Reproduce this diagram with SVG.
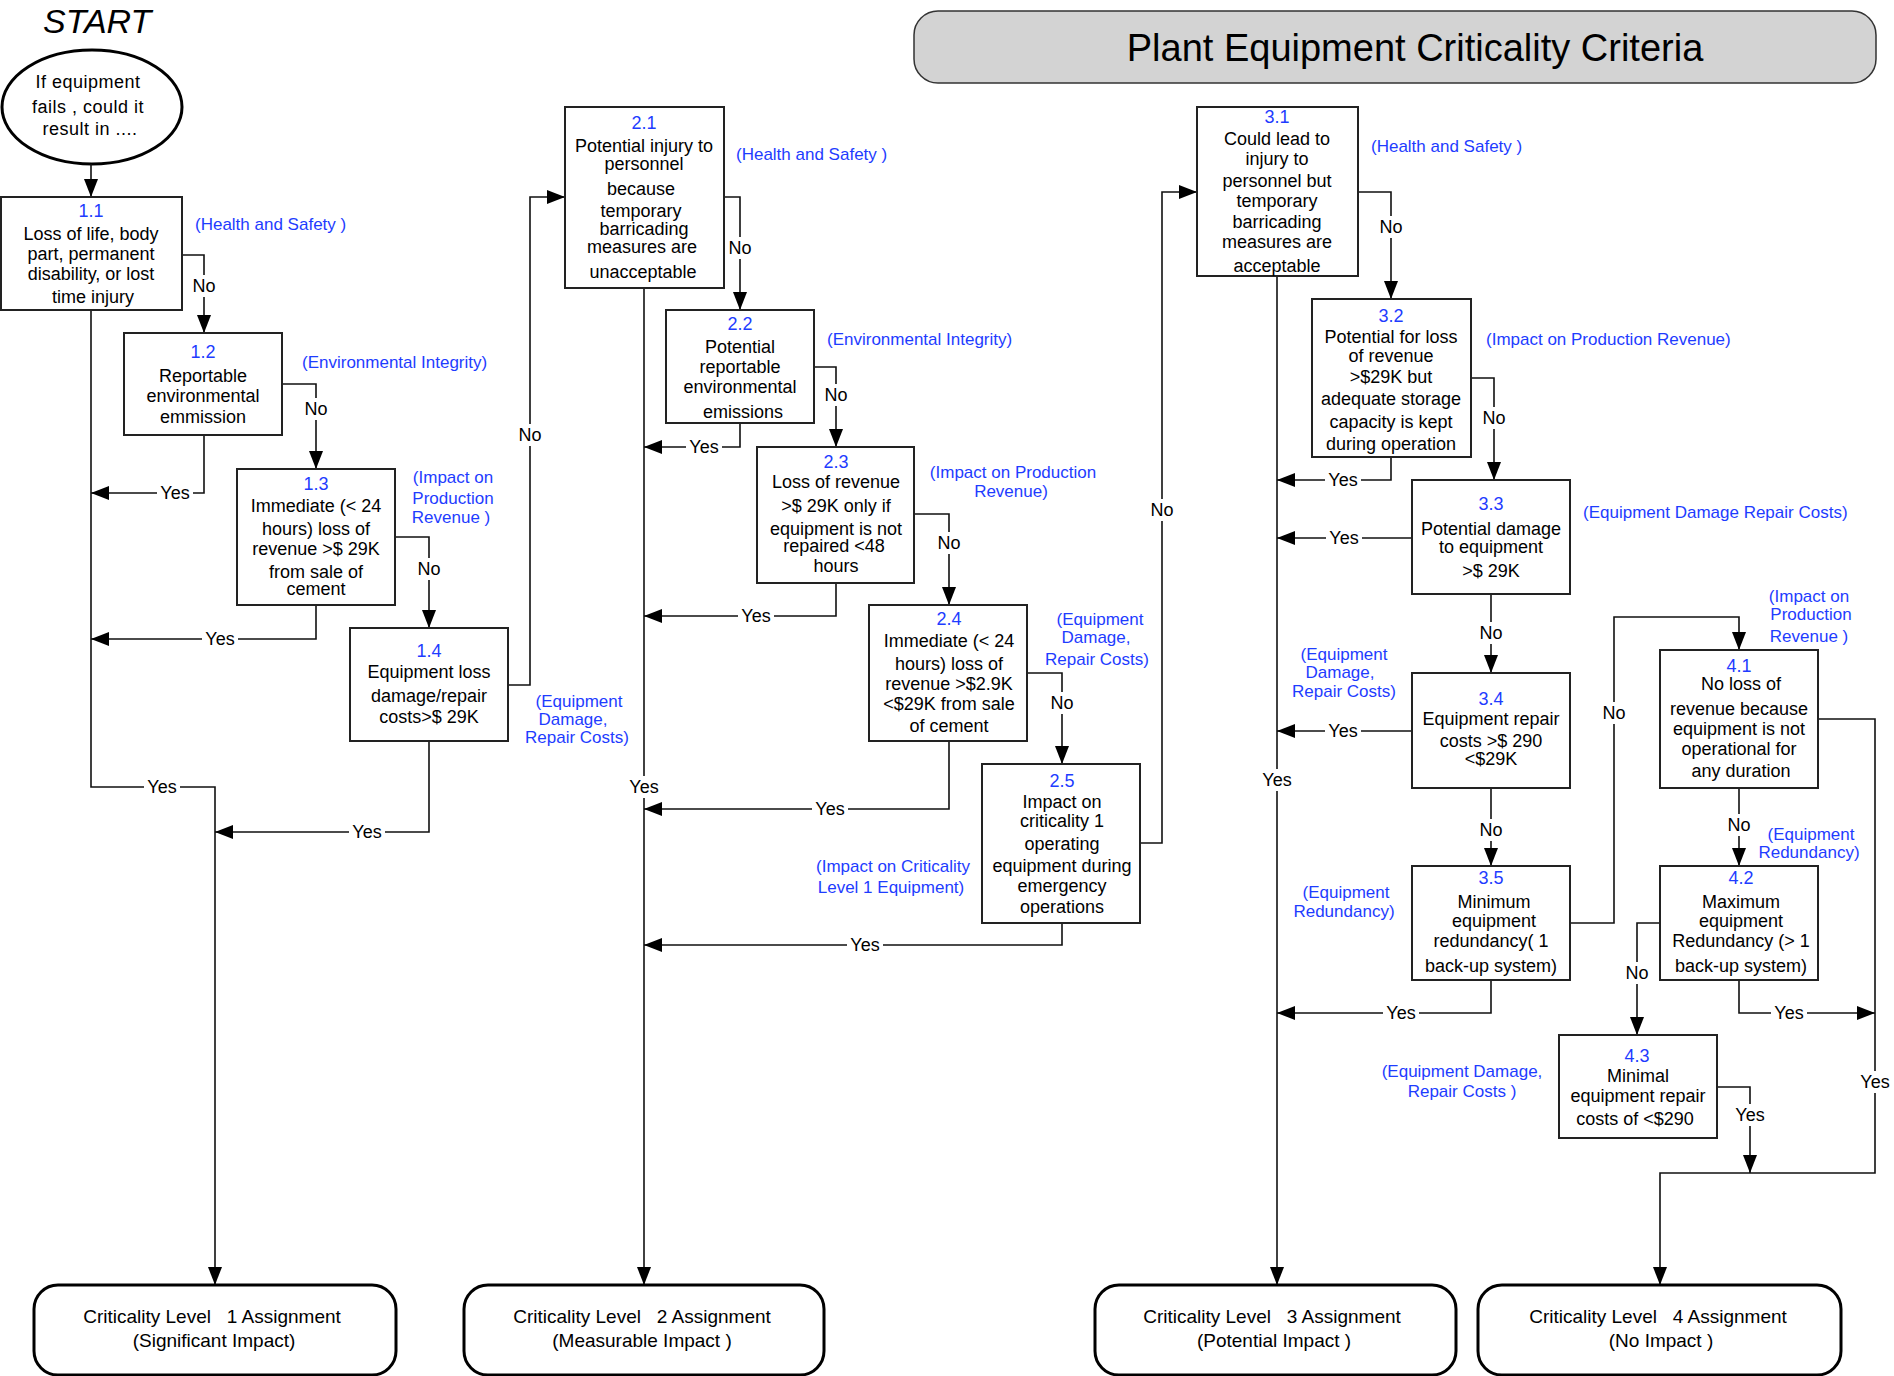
<svg xmlns="http://www.w3.org/2000/svg" width="1894" height="1376" viewBox="0 0 1894 1376">
<style>
text{font-family:"Liberation Sans",Arial,sans-serif}
.box{fill:#fff;stroke:#222;stroke-width:2}
.term{fill:#fff;stroke:#000;stroke-width:3}
.t{font-size:18px;fill:#000;text-anchor:middle}
.num{font-size:18px;fill:#1e3cff;text-anchor:middle}
.cat{font-size:17px;fill:#1e3cff}
.catm{font-size:17px;fill:#1e3cff;text-anchor:middle}
.conn{fill:none;stroke:#111;stroke-width:1.6}
.lbl{font-size:18px;fill:#000;text-anchor:middle}
.bg{fill:#fff}
.tt{font-size:19px;fill:#000;text-anchor:middle}
</style>
<defs>
<marker id="ah" markerUnits="userSpaceOnUse" markerWidth="20" markerHeight="14" refX="18" refY="7" orient="auto">
<path d="M0,0 L18,7 L0,14 z" fill="#000"/>
</marker>
</defs>
<rect width="1894" height="1376" fill="#fff"/>

<g id="title">
<rect x="914" y="11" width="962" height="72" rx="24" fill="#d3d3d3" stroke="#333" stroke-width="1.5"/>
<text x="1415" y="61" font-size="38" text-anchor="middle" fill="#000">Plant Equipment Criticality Criteria</text>
</g>

<g id="start">
<text x="43" y="33" font-size="34" font-style="italic" fill="#000">START</text>
<ellipse cx="92" cy="107" rx="90" ry="57" fill="#fff" stroke="#000" stroke-width="3"/>
<text class="t" letter-spacing="0.5"><tspan x="88" y="88">If equipment</tspan><tspan x="88" y="113">fails , could it</tspan><tspan x="90" y="135">result in ....</tspan></text>
</g>

<g id="connectors">
<path class="conn" marker-end="url(#ah)" d="M91,164 V197"/>
<path class="conn" marker-end="url(#ah)" d="M182,255 H204 V333"/>
<path class="conn" marker-end="url(#ah)" d="M282,384 H316 V469"/>
<path class="conn" marker-end="url(#ah)" d="M395,537 H429 V628"/>
<path class="conn" marker-end="url(#ah)" d="M508,685 H530 V197 H565"/>
<path class="conn" marker-end="url(#ah)" d="M204,435 V493 H91"/>
<path class="conn" marker-end="url(#ah)" d="M316,605 V639 H91"/>
<path class="conn" marker-end="url(#ah)" d="M91,310 V787 H215 V1285"/>
<path class="conn" marker-end="url(#ah)" d="M429,741 V832 H215"/>
<path class="conn" marker-end="url(#ah)" d="M724,197 H740 V310"/>
<path class="conn" marker-end="url(#ah)" d="M814,367 H836 V447"/>
<path class="conn" marker-end="url(#ah)" d="M914,514 H949 V605"/>
<path class="conn" marker-end="url(#ah)" d="M1027,673 H1062 V764"/>
<path class="conn" marker-end="url(#ah)" d="M1140,843 H1162 V192 H1197"/>
<path class="conn" marker-end="url(#ah)" d="M644,288 V1285"/>
<path class="conn" marker-end="url(#ah)" d="M740,423 V447 H644"/>
<path class="conn" marker-end="url(#ah)" d="M836,583 V616 H644"/>
<path class="conn" marker-end="url(#ah)" d="M949,741 V809 H644"/>
<path class="conn" marker-end="url(#ah)" d="M1062,923 V945 H644"/>
<path class="conn" marker-end="url(#ah)" d="M1358,192 H1391 V299"/>
<path class="conn" marker-end="url(#ah)" d="M1471,378 H1494 V480"/>
<path class="conn" marker-end="url(#ah)" d="M1491,594 V673"/>
<path class="conn" marker-end="url(#ah)" d="M1491,788 V866"/>
<path class="conn" marker-end="url(#ah)" d="M1570,923 H1614 V617 H1739 V650"/>
<path class="conn" marker-end="url(#ah)" d="M1277,276 V1285"/>
<path class="conn" marker-end="url(#ah)" d="M1391,457 V480 H1277"/>
<path class="conn" marker-end="url(#ah)" d="M1412,538 H1277"/>
<path class="conn" marker-end="url(#ah)" d="M1412,731 H1277"/>
<path class="conn" marker-end="url(#ah)" d="M1491,980 V1013 H1277"/>
<path class="conn" marker-end="url(#ah)" d="M1739,788 V866"/>
<path class="conn" marker-end="url(#ah)" d="M1660,923 H1637 V1035"/>
<path class="conn" marker-end="url(#ah)" d="M1739,980 V1013 H1875"/>
<path class="conn" marker-end="url(#ah)" d="M1717,1087 H1750 V1173"/>
<path class="conn" marker-end="url(#ah)" d="M1818,719 H1875 V1173 H1660 V1285"/>
</g>

<g id="connector-labels">
<rect class="bg" x="190" y="275" width="28" height="22"/><text class="lbl" x="204" y="292">No</text>
<rect class="bg" x="302" y="398" width="28" height="22"/><text class="lbl" x="316" y="415">No</text>
<rect class="bg" x="415" y="558" width="28" height="22"/><text class="lbl" x="429" y="575">No</text>
<rect class="bg" x="516" y="424" width="28" height="22"/><text class="lbl" x="530" y="441">No</text>
<rect class="bg" x="726" y="237" width="28" height="22"/><text class="lbl" x="740" y="254">No</text>
<rect class="bg" x="822" y="384" width="28" height="22"/><text class="lbl" x="836" y="401">No</text>
<rect class="bg" x="935" y="532" width="28" height="22"/><text class="lbl" x="949" y="549">No</text>
<rect class="bg" x="1048" y="692" width="28" height="22"/><text class="lbl" x="1062" y="709">No</text>
<rect class="bg" x="1148" y="499" width="28" height="22"/><text class="lbl" x="1162" y="516">No</text>
<rect class="bg" x="1377" y="216" width="28" height="22"/><text class="lbl" x="1391" y="233">No</text>
<rect class="bg" x="1480" y="407" width="28" height="22"/><text class="lbl" x="1494" y="424">No</text>
<rect class="bg" x="1477" y="622" width="28" height="22"/><text class="lbl" x="1491" y="639">No</text>
<rect class="bg" x="1477" y="819" width="28" height="22"/><text class="lbl" x="1491" y="836">No</text>
<rect class="bg" x="1600" y="702" width="28" height="22"/><text class="lbl" x="1614" y="719">No</text>
<rect class="bg" x="1725" y="814" width="28" height="22"/><text class="lbl" x="1739" y="831">No</text>
<rect class="bg" x="1623" y="962" width="28" height="22"/><text class="lbl" x="1637" y="979">No</text>
<rect class="bg" x="626" y="776" width="36" height="22"/><text class="lbl" x="644" y="793">Yes</text>
<rect class="bg" x="1259" y="769" width="36" height="22"/><text class="lbl" x="1277" y="786">Yes</text>
<rect class="bg" x="1857" y="1071" width="36" height="22"/><text class="lbl" x="1875" y="1088">Yes</text>
<rect class="bg" x="1732" y="1104" width="36" height="22"/><text class="lbl" x="1750" y="1121">Yes</text>
<rect class="bg" x="157" y="484" width="36" height="18"/><text class="lbl" x="175" y="499">Yes</text>
<rect class="bg" x="202" y="630" width="36" height="18"/><text class="lbl" x="220" y="645">Yes</text>
<rect class="bg" x="144" y="778" width="36" height="18"/><text class="lbl" x="162" y="793">Yes</text>
<rect class="bg" x="349" y="823" width="36" height="18"/><text class="lbl" x="367" y="838">Yes</text>
<rect class="bg" x="686" y="438" width="36" height="18"/><text class="lbl" x="704" y="453">Yes</text>
<rect class="bg" x="738" y="607" width="36" height="18"/><text class="lbl" x="756" y="622">Yes</text>
<rect class="bg" x="812" y="800" width="36" height="18"/><text class="lbl" x="830" y="815">Yes</text>
<rect class="bg" x="847" y="936" width="36" height="18"/><text class="lbl" x="865" y="951">Yes</text>
<rect class="bg" x="1325" y="471" width="36" height="18"/><text class="lbl" x="1343" y="486">Yes</text>
<rect class="bg" x="1326" y="529" width="36" height="18"/><text class="lbl" x="1344" y="544">Yes</text>
<rect class="bg" x="1325" y="722" width="36" height="18"/><text class="lbl" x="1343" y="737">Yes</text>
<rect class="bg" x="1383" y="1004" width="36" height="18"/><text class="lbl" x="1401" y="1019">Yes</text>
<rect class="bg" x="1771" y="1004" width="36" height="18"/><text class="lbl" x="1789" y="1019">Yes</text>
</g>

<g id="n1-1">
<rect class="box" x="1" y="197" width="181" height="113"/>
<text class="num" x="91" y="217">1.1</text>
<text class="t"><tspan x="91" y="240">Loss of life, body</tspan><tspan x="91" y="260">part, permanent</tspan><tspan x="91" y="280">disability, or lost</tspan><tspan x="93" y="303">time injury</tspan></text>
<text class="cat" x="195" y="230">(Health and Safety )</text>
</g>
<g id="n1-2">
<rect class="box" x="124" y="333" width="158" height="102"/>
<text class="num" x="203" y="358">1.2</text>
<text class="t"><tspan x="203" y="382">Reportable</tspan><tspan x="203" y="402">environmental</tspan><tspan x="203" y="423">emmission</tspan></text>
<text class="cat" x="302" y="368">(Environmental Integrity)</text>
</g>
<g id="n1-3">
<rect class="box" x="237" y="469" width="158" height="136"/>
<text class="num" x="316" y="490">1.3</text>
<text class="t"><tspan x="316" y="512">Immediate (&lt; 24</tspan><tspan x="316" y="535">hours) loss of</tspan><tspan x="316" y="555">revenue &gt;$ 29K</tspan><tspan x="316" y="578">from sale of</tspan><tspan x="316" y="595">cement</tspan></text>
<text class="catm"><tspan x="453" y="483">(Impact on</tspan><tspan x="453" y="504">Production</tspan><tspan x="451" y="523">Revenue )</tspan></text>
</g>
<g id="n1-4">
<rect class="box" x="350" y="628" width="158" height="113"/>
<text class="num" x="429" y="657">1.4</text>
<text class="t"><tspan x="429" y="678">Equipment loss</tspan><tspan x="429" y="702">damage/repair</tspan><tspan x="429" y="723">costs&gt;$ 29K</tspan></text>
<text class="catm"><tspan x="579" y="707">(Equipment</tspan><tspan x="573" y="725">Damage,</tspan><tspan x="577" y="743">Repair Costs)</tspan></text>
</g>

<g id="n2-1">
<rect class="box" x="565" y="107" width="159" height="181"/>
<text class="num" x="644" y="129">2.1</text>
<text class="t"><tspan x="644" y="152">Potential injury to</tspan><tspan x="644" y="170">personnel</tspan><tspan x="641" y="195">because</tspan><tspan x="641" y="217">temporary</tspan><tspan x="644" y="235">barricading</tspan><tspan x="642" y="253">measures are</tspan><tspan x="643" y="278">unacceptable</tspan></text>
<text class="cat" x="736" y="160">(Health and Safety )</text>
</g>
<g id="n2-2">
<rect class="box" x="666" y="310" width="148" height="113"/>
<text class="num" x="740" y="330">2.2</text>
<text class="t"><tspan x="740" y="353">Potential</tspan><tspan x="740" y="373">reportable</tspan><tspan x="740" y="393">environmental</tspan><tspan x="743" y="418">emissions</tspan></text>
<text class="cat" x="827" y="345">(Environmental Integrity)</text>
</g>
<g id="n2-3">
<rect class="box" x="757" y="447" width="157" height="136"/>
<text class="num" x="836" y="468">2.3</text>
<text class="t"><tspan x="836" y="488">Loss of revenue</tspan><tspan x="836" y="512">&gt;$ 29K only if</tspan><tspan x="836" y="535">equipment is not</tspan><tspan x="834" y="552">repaired &lt;48</tspan><tspan x="836" y="572">hours</tspan></text>
<text class="catm"><tspan x="1013" y="478">(Impact on Production</tspan><tspan x="1011" y="497">Revenue)</tspan></text>
</g>
<g id="n2-4">
<rect class="box" x="869" y="605" width="158" height="136"/>
<text class="num" x="949" y="625">2.4</text>
<text class="t"><tspan x="949" y="647">Immediate (&lt; 24</tspan><tspan x="949" y="670">hours) loss of</tspan><tspan x="949" y="690">revenue &gt;$2.9K</tspan><tspan x="949" y="710">&lt;$29K from sale</tspan><tspan x="949" y="732">of cement</tspan></text>
<text class="catm"><tspan x="1100" y="625">(Equipment</tspan><tspan x="1096" y="643">Damage,</tspan><tspan x="1097" y="665">Repair Costs)</tspan></text>
</g>
<g id="n2-5">
<rect class="box" x="982" y="764" width="158" height="159"/>
<text class="num" x="1062" y="787">2.5</text>
<text class="t"><tspan x="1062" y="808">Impact on</tspan><tspan x="1062" y="827">criticality 1</tspan><tspan x="1062" y="850">operating</tspan><tspan x="1062" y="872">equipment during</tspan><tspan x="1062" y="892">emergency</tspan><tspan x="1062" y="913">operations</tspan></text>
<text class="catm"><tspan x="893" y="872">(Impact on Criticality</tspan><tspan x="891" y="893">Level 1 Equipment)</tspan></text>
</g>

<g id="n3-1">
<rect class="box" x="1197" y="107" width="161" height="169"/>
<text class="num" x="1277" y="123">3.1</text>
<text class="t"><tspan x="1277" y="145">Could lead to</tspan><tspan x="1277" y="165">injury to</tspan><tspan x="1277" y="187">personnel but</tspan><tspan x="1277" y="207">temporary</tspan><tspan x="1277" y="228">barricading</tspan><tspan x="1277" y="248">measures are</tspan><tspan x="1277" y="272">acceptable</tspan></text>
<text class="cat" x="1371" y="152">(Health and Safety )</text>
</g>
<g id="n3-2">
<rect class="box" x="1312" y="299" width="159" height="158"/>
<text class="num" x="1391" y="322">3.2</text>
<text class="t"><tspan x="1391" y="343">Potential for loss</tspan><tspan x="1391" y="362">of revenue</tspan><tspan x="1391" y="383">&gt;$29K but</tspan><tspan x="1391" y="405">adequate storage</tspan><tspan x="1391" y="428">capacity is kept</tspan><tspan x="1391" y="450">during operation</tspan></text>
<text class="cat" x="1486" y="345">(Impact on Production Revenue)</text>
</g>
<g id="n3-3">
<rect class="box" x="1412" y="480" width="158" height="114"/>
<text class="num" x="1491" y="510">3.3</text>
<text class="t"><tspan x="1491" y="535">Potential damage</tspan><tspan x="1491" y="553">to equipment</tspan><tspan x="1491" y="577">&gt;$ 29K</tspan></text>
<text class="cat" x="1583" y="518">(Equipment Damage Repair Costs)</text>
</g>
<g id="n3-4">
<rect class="box" x="1412" y="673" width="158" height="115"/>
<text class="num" x="1491" y="705">3.4</text>
<text class="t"><tspan x="1491" y="725">Equipment repair</tspan><tspan x="1491" y="747">costs &gt;$ 290</tspan><tspan x="1491" y="765">&lt;$29K</tspan></text>
<text class="catm"><tspan x="1344" y="660">(Equipment</tspan><tspan x="1340" y="678">Damage,</tspan><tspan x="1344" y="697">Repair Costs)</tspan></text>
</g>
<g id="n3-5">
<rect class="box" x="1412" y="866" width="158" height="114"/>
<text class="num" x="1491" y="884">3.5</text>
<text class="t"><tspan x="1494" y="908">Minimum</tspan><tspan x="1494" y="927">equipment</tspan><tspan x="1491" y="947">redundancy( 1</tspan><tspan x="1491" y="972">back-up system)</tspan></text>
<text class="catm"><tspan x="1346" y="898">(Equipment</tspan><tspan x="1344" y="917">Redundancy)</tspan></text>
</g>

<g id="n4-1">
<rect class="box" x="1660" y="650" width="158" height="138"/>
<text class="num" x="1739" y="672">4.1</text>
<text class="t"><tspan x="1741" y="690">No loss of</tspan><tspan x="1739" y="715">revenue because</tspan><tspan x="1739" y="735">equipment is not</tspan><tspan x="1739" y="755">operational for</tspan><tspan x="1741" y="777">any duration</tspan></text>
<text class="catm"><tspan x="1809" y="602">(Impact on</tspan><tspan x="1811" y="620">Production</tspan><tspan x="1809" y="642">Revenue )</tspan></text>
</g>
<g id="n4-2">
<rect class="box" x="1660" y="866" width="158" height="114"/>
<text class="num" x="1741" y="884">4.2</text>
<text class="t"><tspan x="1741" y="908">Maximum</tspan><tspan x="1741" y="927">equipment</tspan><tspan x="1741" y="947">Redundancy (&gt; 1</tspan><tspan x="1741" y="972">back-up system)</tspan></text>
<text class="catm"><tspan x="1811" y="840">(Equipment</tspan><tspan x="1809" y="858">Redundancy)</tspan></text>
</g>
<g id="n4-3">
<rect class="box" x="1559" y="1035" width="158" height="103"/>
<text class="num" x="1637" y="1062">4.3</text>
<text class="t"><tspan x="1638" y="1082">Minimal</tspan><tspan x="1638" y="1102">equipment repair</tspan><tspan x="1635" y="1125">costs of &lt;$290</tspan></text>
<text class="catm"><tspan x="1462" y="1077">(Equipment Damage,</tspan><tspan x="1462" y="1097">Repair Costs )</tspan></text>
</g>

<g id="level1">
<rect class="term" x="34" y="1285" width="362" height="90" rx="24"/>
<text class="tt"><tspan x="212" y="1323">Criticality Level &#160;&#160;1 Assignment</tspan><tspan x="214" y="1347">(Significant Impact)</tspan></text>
</g>
<g id="level2">
<rect class="term" x="464" y="1285" width="360" height="90" rx="24"/>
<text class="tt"><tspan x="642" y="1323">Criticality Level &#160;&#160;2 Assignment</tspan><tspan x="642" y="1347">(Measurable Impact )</tspan></text>
</g>
<g id="level3">
<rect class="term" x="1095" y="1285" width="361" height="90" rx="24"/>
<text class="tt"><tspan x="1272" y="1323">Criticality Level &#160;&#160;3 Assignment</tspan><tspan x="1274" y="1347">(Potential Impact )</tspan></text>
</g>
<g id="level4">
<rect class="term" x="1478" y="1285" width="363" height="90" rx="24"/>
<text class="tt"><tspan x="1658" y="1323">Criticality Level &#160;&#160;4 Assignment</tspan><tspan x="1661" y="1347">(No Impact )</tspan></text>
</g>
</svg>
